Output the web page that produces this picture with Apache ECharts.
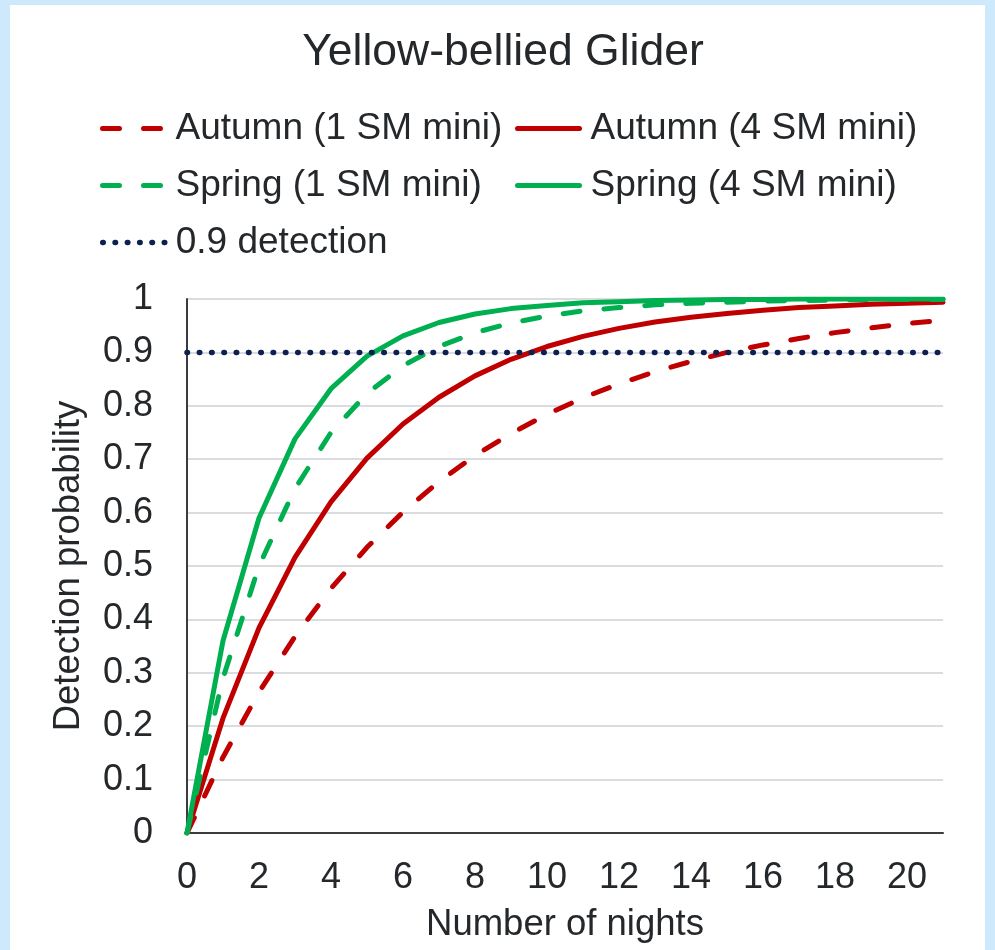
<!DOCTYPE html>
<html>
<head>
<meta charset="utf-8">
<script src="https://cdn.jsdelivr.net/npm/echarts@6/dist/echarts.min.js"></script>
<style>
  html, body { margin: 0; padding: 0; background: #cde9fb; }
  #chart { width: 995px; height: 950px; }
</style>
</head>
<body>
<div id="chart"></div>
<script>
// Nights since deployment (x values)
const nights = [0, 1, 2, 3, 4, 5, 6, 7, 8, 9, 10, 11, 12, 13, 14, 15, 16, 17, 18, 19, 20, 21];

// Cumulative detection probability per survey design
const autumn1 = [0, 0.142, 0.264, 0.368, 0.458, 0.535, 0.601, 0.658, 0.707, 0.748, 0.784, 0.815, 0.841, 0.864, 0.883, 0.900, 0.914, 0.926, 0.937, 0.946, 0.954, 0.960];
const autumn4 = [0, 0.215, 0.384, 0.516, 0.620, 0.702, 0.766, 0.816, 0.856, 0.887, 0.911, 0.930, 0.945, 0.957, 0.966, 0.973, 0.979, 0.984, 0.987, 0.990, 0.992, 0.994];
const spring1 = [0, 0.290, 0.500, 0.645, 0.750, 0.823, 0.875, 0.911, 0.937, 0.955, 0.968, 0.978, 0.984, 0.989, 0.992, 0.994, 0.996, 0.997, 0.998, 0.999, 0.999, 0.999];
const spring4 = [0, 0.360, 0.590, 0.738, 0.832, 0.893, 0.931, 0.956, 0.972, 0.982, 0.988, 0.993, 0.995, 0.997, 0.998, 0.999, 0.999, 1, 1, 1, 1, 1];
const threshold = 0.9;

const seriesNames = ['Autumn (1 SM mini)', 'Autumn (4 SM mini)', 'Spring (1 SM mini)', 'Spring (4 SM mini)', '0.9 detection'];

const FONT = '"Liberation Sans", Arial, sans-serif';
const TEXT = '#25282b';
const RED = '#c00000';
const GREEN = '#00b050';
const NAVY = '#0c2150';
const DASH = [17, 24];
const DOT = [0.5, 11.8];
const LW = 5;
const DOT_LW = 5.5;

const pairs = vals => nights.map((n, i) => [n, vals[i]]);

function lineSeries(name, vals, color, dash, width) {
  return {
    name: name,
    type: 'line',
    data: pairs(vals),
    symbol: 'none',
    smooth: false,
    lineStyle: { color: color, width: width, type: dash, cap: 'round', join: 'round' },
    itemStyle: { color: color },
    emphasis: { disabled: true }
  };
}

// One legend per entry so the two-column layout can be placed precisely
function legendAt(name, color, dash, width, left, top) {
  return {
    data: [name],
    left: left,
    top: top,
    itemWidth: 62,
    itemHeight: 20,
    selectedMode: false,
    itemStyle: { opacity: 0 },
    lineStyle: { color: color, width: width, type: dash, cap: 'round' },
    textStyle: { fontFamily: FONT, fontSize: 37, color: TEXT, padding: [0, 0, 0, 6] }
  };
}

const chart = echarts.init(document.getElementById('chart'), null, { renderer: 'canvas' });

chart.setOption({
  backgroundColor: '#cde9fb',
  animation: false,
  graphic: [{
    type: 'rect',
    z: -10,
    shape: { x: 10, y: 5, width: 975, height: 945 },
    style: { fill: '#ffffff' },
    silent: true
  }],
  title: {
    text: 'Yellow-bellied Glider',
    left: 498,
    textAlign: 'center',
    top: 25,
    textStyle: { fontFamily: FONT, fontSize: 44.5, fontWeight: 'normal', color: TEXT }
  },
  legend: [
    legendAt(seriesNames[0], RED, DASH, LW, 95, 105),
    legendAt(seriesNames[1], RED, 'solid', LW, 510, 105),
    legendAt(seriesNames[2], GREEN, DASH, LW, 95, 162),
    legendAt(seriesNames[3], GREEN, 'solid', LW, 510, 162),
    legendAt(seriesNames[4], NAVY, DOT, DOT_LW, 95, 219)
  ],
  grid: { left: 187, right: 52, top: 299, bottom: 117, containLabel: false },
  xAxis: {
    type: 'value',
    min: 0,
    max: 21,
    interval: 2,
    name: 'Number of nights',
    nameLocation: 'middle',
    nameGap: 73,
    nameTextStyle: { fontFamily: FONT, fontSize: 36.5, color: TEXT },
    axisLine: { show: true, onZero: false, lineStyle: { color: '#3a3d40', width: 2 } },
    axisTick: { show: false },
    splitLine: { show: false },
    axisLabel: { showMaxLabel: false, margin: 27, fontFamily: FONT, fontSize: 36, color: TEXT }
  },
  yAxis: {
    type: 'value',
    min: 0,
    max: 1,
    interval: 0.1,
    name: 'Detection probability',
    nameLocation: 'middle',
    nameGap: 100,
    nameTextStyle: { fontFamily: FONT, fontSize: 36.5, color: TEXT },
    axisLine: { show: true, lineStyle: { color: '#3a3d40', width: 2 } },
    axisTick: { show: false },
    splitLine: { show: true, lineStyle: { color: '#dadce0', width: 2 } },
    axisLabel: { margin: 34, fontFamily: FONT, fontSize: 36, color: TEXT }
  },
  series: [
    lineSeries(seriesNames[0], autumn1, RED, DASH, LW),
    lineSeries(seriesNames[1], autumn4, RED, 'solid', LW),
    lineSeries(seriesNames[2], spring1, GREEN, DASH, LW),
    lineSeries(seriesNames[3], spring4, GREEN, 'solid', LW),
    lineSeries(seriesNames[4], nights.map(() => threshold), NAVY, DOT, DOT_LW)
  ]
});
</script>
</body>
</html>
